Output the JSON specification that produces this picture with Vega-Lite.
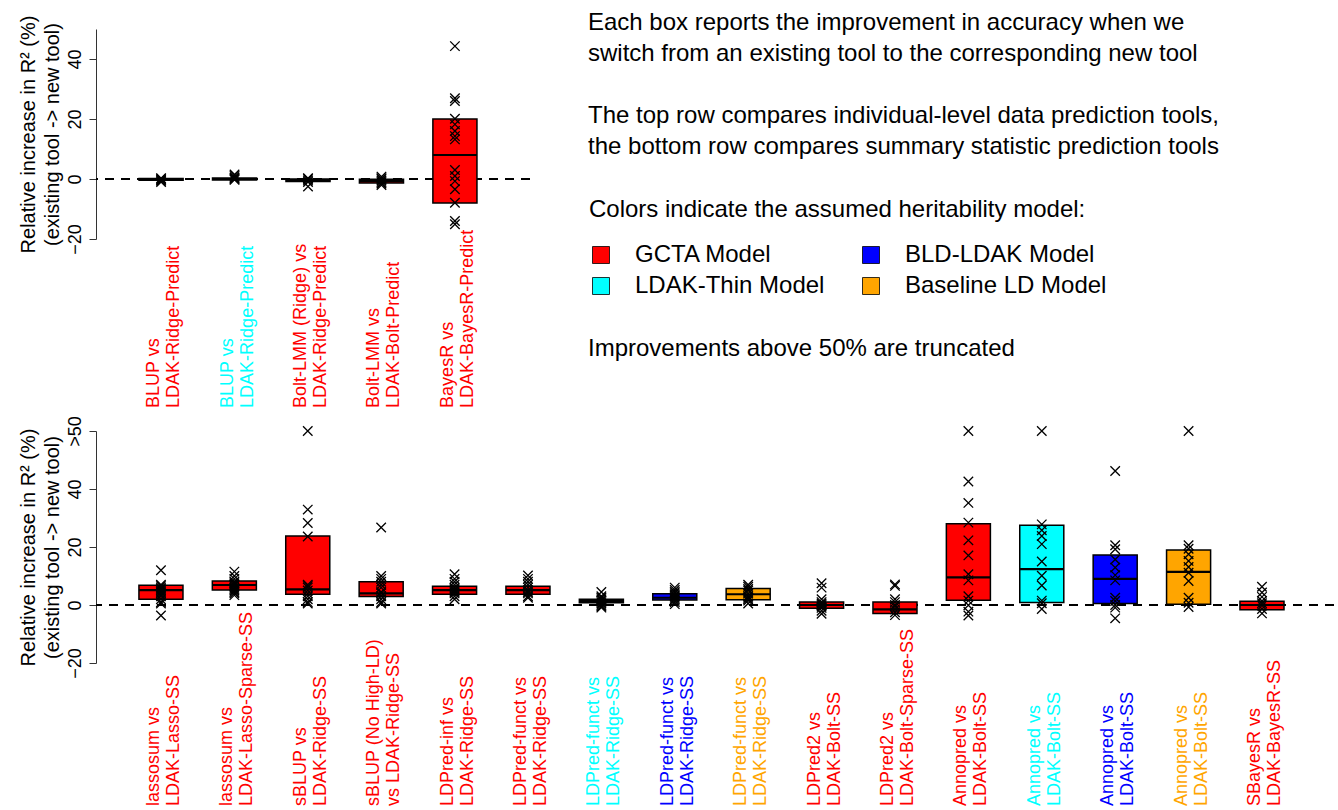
{
  "$schema": "https://vega.github.io/schema/vega-lite/v6.json",
  "background": "white",
  "padding": {"left": 17, "top": 10, "right": 0, "bottom": 0},
  "config": {
    "font": "Liberation Sans",
    "view": {"stroke": null},
    "axis": {"grid": false, "domainColor": "#333", "tickColor": "#333", "labelColor": "black", "titleColor": "black", "labelFont": "Liberation Sans", "titleFont": "Liberation Sans"}
  },
  "datasets": {
    "topBoxes": [
      {"comparison": "BLUP vs LDAK-Ridge-Predict (GCTA)", "label": "BLUP vs\nLDAK-Ridge-Predict", "model": "GCTA Model", "q1": -0.4, "med": -0.1, "q3": 0.2},
      {"comparison": "BLUP vs LDAK-Ridge-Predict (LDAK-Thin)", "label": "BLUP vs\nLDAK-Ridge-Predict", "model": "LDAK-Thin Model", "q1": -0.3, "med": 0, "q3": 0.3},
      {"comparison": "Bolt-LMM (Ridge) vs LDAK-Ridge-Predict", "label": "Bolt-LMM (Ridge) vs\nLDAK-Ridge-Predict", "model": "GCTA Model", "q1": -0.8, "med": -0.4, "q3": 0},
      {"comparison": "Bolt-LMM vs LDAK-Bolt-Predict", "label": "Bolt-LMM vs\nLDAK-Bolt-Predict", "model": "GCTA Model", "q1": -1.3, "med": -0.7, "q3": -0.1},
      {"comparison": "BayesR vs LDAK-BayesR-Predict", "label": "BayesR vs\nLDAK-BayesR-Predict", "model": "GCTA Model", "q1": -8, "med": 8, "q3": 20}
    ],
    "topPts": [
      {"comparison": "BLUP vs LDAK-Ridge-Predict (GCTA)", "value": 0.3},
      {"comparison": "BLUP vs LDAK-Ridge-Predict (GCTA)", "value": 0},
      {"comparison": "BLUP vs LDAK-Ridge-Predict (GCTA)", "value": -0.3},
      {"comparison": "BLUP vs LDAK-Ridge-Predict (GCTA)", "value": -0.6},
      {"comparison": "BLUP vs LDAK-Ridge-Predict (GCTA)", "value": -1.0},
      {"comparison": "BLUP vs LDAK-Ridge-Predict (LDAK-Thin)", "value": 1.5},
      {"comparison": "BLUP vs LDAK-Ridge-Predict (LDAK-Thin)", "value": 1.0},
      {"comparison": "BLUP vs LDAK-Ridge-Predict (LDAK-Thin)", "value": 0.5},
      {"comparison": "BLUP vs LDAK-Ridge-Predict (LDAK-Thin)", "value": 0.2},
      {"comparison": "BLUP vs LDAK-Ridge-Predict (LDAK-Thin)", "value": 0},
      {"comparison": "BLUP vs LDAK-Ridge-Predict (LDAK-Thin)", "value": -0.3},
      {"comparison": "Bolt-LMM (Ridge) vs LDAK-Ridge-Predict", "value": 0.3},
      {"comparison": "Bolt-LMM (Ridge) vs LDAK-Ridge-Predict", "value": 0},
      {"comparison": "Bolt-LMM (Ridge) vs LDAK-Ridge-Predict", "value": -0.5},
      {"comparison": "Bolt-LMM (Ridge) vs LDAK-Ridge-Predict", "value": -1.0},
      {"comparison": "Bolt-LMM (Ridge) vs LDAK-Ridge-Predict", "value": -2.5},
      {"comparison": "Bolt-LMM vs LDAK-Bolt-Predict", "value": 0.8},
      {"comparison": "Bolt-LMM vs LDAK-Bolt-Predict", "value": 0.3},
      {"comparison": "Bolt-LMM vs LDAK-Bolt-Predict", "value": 0},
      {"comparison": "Bolt-LMM vs LDAK-Bolt-Predict", "value": -0.5},
      {"comparison": "Bolt-LMM vs LDAK-Bolt-Predict", "value": -1.0},
      {"comparison": "Bolt-LMM vs LDAK-Bolt-Predict", "value": -1.5},
      {"comparison": "Bolt-LMM vs LDAK-Bolt-Predict", "value": -2.0},
      {"comparison": "BayesR vs LDAK-BayesR-Predict", "value": 44.3},
      {"comparison": "BayesR vs LDAK-BayesR-Predict", "value": 26.9},
      {"comparison": "BayesR vs LDAK-BayesR-Predict", "value": 26.0},
      {"comparison": "BayesR vs LDAK-BayesR-Predict", "value": 20.1},
      {"comparison": "BayesR vs LDAK-BayesR-Predict", "value": 18.2},
      {"comparison": "BayesR vs LDAK-BayesR-Predict", "value": 16.0},
      {"comparison": "BayesR vs LDAK-BayesR-Predict", "value": 14.3},
      {"comparison": "BayesR vs LDAK-BayesR-Predict", "value": 13.2},
      {"comparison": "BayesR vs LDAK-BayesR-Predict", "value": 3.0},
      {"comparison": "BayesR vs LDAK-BayesR-Predict", "value": 1.0},
      {"comparison": "BayesR vs LDAK-BayesR-Predict", "value": -0.7},
      {"comparison": "BayesR vs LDAK-BayesR-Predict", "value": -3.4},
      {"comparison": "BayesR vs LDAK-BayesR-Predict", "value": -7.9},
      {"comparison": "BayesR vs LDAK-BayesR-Predict", "value": -14.0},
      {"comparison": "BayesR vs LDAK-BayesR-Predict", "value": -15.1}
    ],
    "botBoxes": [
      {"comparison": "lassosum vs LDAK-Lasso-SS", "label": "lassosum vs\nLDAK-Lasso-SS", "model": "GCTA Model", "q1": 2.0, "med": 5.1, "q3": 6.8},
      {"comparison": "lassosum vs LDAK-Lasso-Sparse-SS", "label": "lassosum vs\nLDAK-Lasso-Sparse-SS", "model": "GCTA Model", "q1": 5.2, "med": 6.9, "q3": 8.3},
      {"comparison": "sBLUP vs LDAK-Ridge-SS", "label": "sBLUP vs\nLDAK-Ridge-SS", "model": "GCTA Model", "q1": 3.7, "med": 5.4, "q3": 23.8},
      {"comparison": "sBLUP (No High-LD) vs LDAK-Ridge-SS", "label": "sBLUP (No High-LD)\nvs LDAK-Ridge-SS", "model": "GCTA Model", "q1": 2.9, "med": 4.0, "q3": 8.0},
      {"comparison": "LDPred-inf vs LDAK-Ridge-SS", "label": "LDPred-inf vs\nLDAK-Ridge-SS", "model": "GCTA Model", "q1": 3.7, "med": 5.1, "q3": 6.5},
      {"comparison": "LDPred-funct vs LDAK-Ridge-SS (GCTA)", "label": "LDPred-funct vs\nLDAK-Ridge-SS", "model": "GCTA Model", "q1": 3.7, "med": 5.1, "q3": 6.5},
      {"comparison": "LDPred-funct vs LDAK-Ridge-SS (LDAK-Thin)", "label": "LDPred-funct vs\nLDAK-Ridge-SS", "model": "LDAK-Thin Model", "q1": 0.8, "med": 1.4, "q3": 2.0},
      {"comparison": "LDPred-funct vs LDAK-Ridge-SS (BLD-LDAK)", "label": "LDPred-funct vs\nLDAK-Ridge-SS", "model": "BLD-LDAK Model", "q1": 1.7, "med": 2.5, "q3": 3.9},
      {"comparison": "LDPred-funct vs LDAK-Ridge-SS (Baseline LD)", "label": "LDPred-funct vs\nLDAK-Ridge-SS", "model": "Baseline LD Model", "q1": 1.8, "med": 3.7, "q3": 5.7},
      {"comparison": "LDPred2 vs LDAK-Bolt-SS", "label": "LDPred2 vs\nLDAK-Bolt-SS", "model": "GCTA Model", "q1": -1.1, "med": 0.0, "q3": 1.0},
      {"comparison": "LDPred2 vs LDAK-Bolt-Sparse-SS", "label": "LDPred2 vs\nLDAK-Bolt-Sparse-SS", "model": "GCTA Model", "q1": -2.9, "med": -1.5, "q3": 1.0},
      {"comparison": "Annopred vs LDAK-Bolt-SS (GCTA)", "label": "Annopred vs\nLDAK-Bolt-SS", "model": "GCTA Model", "q1": 1.6, "med": 9.5, "q3": 28.0},
      {"comparison": "Annopred vs LDAK-Bolt-SS (LDAK-Thin)", "label": "Annopred vs\nLDAK-Bolt-SS", "model": "LDAK-Thin Model", "q1": 0.9, "med": 12.4, "q3": 27.5},
      {"comparison": "Annopred vs LDAK-Bolt-SS (BLD-LDAK)", "label": "Annopred vs\nLDAK-Bolt-SS", "model": "BLD-LDAK Model", "q1": 0.5, "med": 9.0, "q3": 17.2},
      {"comparison": "Annopred vs LDAK-Bolt-SS (Baseline LD)", "label": "Annopred vs\nLDAK-Bolt-SS", "model": "Baseline LD Model", "q1": 0.3, "med": 11.4, "q3": 19.0},
      {"comparison": "SBayesR vs LDAK-BayesR-SS", "label": "SBayesR vs\nLDAK-BayesR-SS", "model": "GCTA Model", "q1": -1.6, "med": 0.0, "q3": 1.3}
    ],
    "botPts": [
      {"comparison": "lassosum vs LDAK-Lasso-SS", "value": 12.0},
      {"comparison": "lassosum vs LDAK-Lasso-SS", "value": 7.0},
      {"comparison": "lassosum vs LDAK-Lasso-SS", "value": 6.5},
      {"comparison": "lassosum vs LDAK-Lasso-SS", "value": 6.0},
      {"comparison": "lassosum vs LDAK-Lasso-SS", "value": 5.5},
      {"comparison": "lassosum vs LDAK-Lasso-SS", "value": 5.0},
      {"comparison": "lassosum vs LDAK-Lasso-SS", "value": 4.5},
      {"comparison": "lassosum vs LDAK-Lasso-SS", "value": 4.0},
      {"comparison": "lassosum vs LDAK-Lasso-SS", "value": 3.5},
      {"comparison": "lassosum vs LDAK-Lasso-SS", "value": 3.0},
      {"comparison": "lassosum vs LDAK-Lasso-SS", "value": 2.0},
      {"comparison": "lassosum vs LDAK-Lasso-SS", "value": 1.0},
      {"comparison": "lassosum vs LDAK-Lasso-SS", "value": 0.5},
      {"comparison": "lassosum vs LDAK-Lasso-SS", "value": -3.6},
      {"comparison": "lassosum vs LDAK-Lasso-Sparse-SS", "value": 11.5},
      {"comparison": "lassosum vs LDAK-Lasso-Sparse-SS", "value": 10.0},
      {"comparison": "lassosum vs LDAK-Lasso-Sparse-SS", "value": 9.0},
      {"comparison": "lassosum vs LDAK-Lasso-Sparse-SS", "value": 8.0},
      {"comparison": "lassosum vs LDAK-Lasso-Sparse-SS", "value": 7.5},
      {"comparison": "lassosum vs LDAK-Lasso-Sparse-SS", "value": 7.0},
      {"comparison": "lassosum vs LDAK-Lasso-Sparse-SS", "value": 6.5},
      {"comparison": "lassosum vs LDAK-Lasso-Sparse-SS", "value": 6.0},
      {"comparison": "lassosum vs LDAK-Lasso-Sparse-SS", "value": 5.5},
      {"comparison": "lassosum vs LDAK-Lasso-Sparse-SS", "value": 5.0},
      {"comparison": "lassosum vs LDAK-Lasso-Sparse-SS", "value": 4.5},
      {"comparison": "lassosum vs LDAK-Lasso-Sparse-SS", "value": 4.0},
      {"comparison": "lassosum vs LDAK-Lasso-Sparse-SS", "value": 3.4},
      {"comparison": "sBLUP vs LDAK-Ridge-SS", "value": 60},
      {"comparison": "sBLUP vs LDAK-Ridge-SS", "value": 32.9},
      {"comparison": "sBLUP vs LDAK-Ridge-SS", "value": 28.3},
      {"comparison": "sBLUP vs LDAK-Ridge-SS", "value": 23.6},
      {"comparison": "sBLUP vs LDAK-Ridge-SS", "value": 7.0},
      {"comparison": "sBLUP vs LDAK-Ridge-SS", "value": 6.5},
      {"comparison": "sBLUP vs LDAK-Ridge-SS", "value": 6.0},
      {"comparison": "sBLUP vs LDAK-Ridge-SS", "value": 5.0},
      {"comparison": "sBLUP vs LDAK-Ridge-SS", "value": 4.0},
      {"comparison": "sBLUP vs LDAK-Ridge-SS", "value": 3.0},
      {"comparison": "sBLUP vs LDAK-Ridge-SS", "value": 2.0},
      {"comparison": "sBLUP vs LDAK-Ridge-SS", "value": 1.0},
      {"comparison": "sBLUP vs LDAK-Ridge-SS", "value": 0.5},
      {"comparison": "sBLUP (No High-LD) vs LDAK-Ridge-SS", "value": 26.7},
      {"comparison": "sBLUP (No High-LD) vs LDAK-Ridge-SS", "value": 10.0},
      {"comparison": "sBLUP (No High-LD) vs LDAK-Ridge-SS", "value": 9.0},
      {"comparison": "sBLUP (No High-LD) vs LDAK-Ridge-SS", "value": 8.0},
      {"comparison": "sBLUP (No High-LD) vs LDAK-Ridge-SS", "value": 7.0},
      {"comparison": "sBLUP (No High-LD) vs LDAK-Ridge-SS", "value": 6.0},
      {"comparison": "sBLUP (No High-LD) vs LDAK-Ridge-SS", "value": 4.5},
      {"comparison": "sBLUP (No High-LD) vs LDAK-Ridge-SS", "value": 4.0},
      {"comparison": "sBLUP (No High-LD) vs LDAK-Ridge-SS", "value": 3.0},
      {"comparison": "sBLUP (No High-LD) vs LDAK-Ridge-SS", "value": 2.0},
      {"comparison": "sBLUP (No High-LD) vs LDAK-Ridge-SS", "value": 1.0},
      {"comparison": "sBLUP (No High-LD) vs LDAK-Ridge-SS", "value": 0.5},
      {"comparison": "LDPred-inf vs LDAK-Ridge-SS", "value": 10.6},
      {"comparison": "LDPred-inf vs LDAK-Ridge-SS", "value": 9.0},
      {"comparison": "LDPred-inf vs LDAK-Ridge-SS", "value": 8.0},
      {"comparison": "LDPred-inf vs LDAK-Ridge-SS", "value": 7.0},
      {"comparison": "LDPred-inf vs LDAK-Ridge-SS", "value": 6.0},
      {"comparison": "LDPred-inf vs LDAK-Ridge-SS", "value": 5.5},
      {"comparison": "LDPred-inf vs LDAK-Ridge-SS", "value": 5.0},
      {"comparison": "LDPred-inf vs LDAK-Ridge-SS", "value": 4.5},
      {"comparison": "LDPred-inf vs LDAK-Ridge-SS", "value": 4.0},
      {"comparison": "LDPred-inf vs LDAK-Ridge-SS", "value": 3.0},
      {"comparison": "LDPred-inf vs LDAK-Ridge-SS", "value": 2.0},
      {"comparison": "LDPred-funct vs LDAK-Ridge-SS (GCTA)", "value": 10.2},
      {"comparison": "LDPred-funct vs LDAK-Ridge-SS (GCTA)", "value": 9.0},
      {"comparison": "LDPred-funct vs LDAK-Ridge-SS (GCTA)", "value": 8.0},
      {"comparison": "LDPred-funct vs LDAK-Ridge-SS (GCTA)", "value": 7.0},
      {"comparison": "LDPred-funct vs LDAK-Ridge-SS (GCTA)", "value": 6.0},
      {"comparison": "LDPred-funct vs LDAK-Ridge-SS (GCTA)", "value": 5.0},
      {"comparison": "LDPred-funct vs LDAK-Ridge-SS (GCTA)", "value": 4.5},
      {"comparison": "LDPred-funct vs LDAK-Ridge-SS (GCTA)", "value": 4.0},
      {"comparison": "LDPred-funct vs LDAK-Ridge-SS (GCTA)", "value": 3.0},
      {"comparison": "LDPred-funct vs LDAK-Ridge-SS (GCTA)", "value": 2.5},
      {"comparison": "LDPred-funct vs LDAK-Ridge-SS (LDAK-Thin)", "value": 4.5},
      {"comparison": "LDPred-funct vs LDAK-Ridge-SS (LDAK-Thin)", "value": 3.0},
      {"comparison": "LDPred-funct vs LDAK-Ridge-SS (LDAK-Thin)", "value": 2.5},
      {"comparison": "LDPred-funct vs LDAK-Ridge-SS (LDAK-Thin)", "value": 2.0},
      {"comparison": "LDPred-funct vs LDAK-Ridge-SS (LDAK-Thin)", "value": 1.5},
      {"comparison": "LDPred-funct vs LDAK-Ridge-SS (LDAK-Thin)", "value": 1.0},
      {"comparison": "LDPred-funct vs LDAK-Ridge-SS (LDAK-Thin)", "value": 0.5},
      {"comparison": "LDPred-funct vs LDAK-Ridge-SS (LDAK-Thin)", "value": 0},
      {"comparison": "LDPred-funct vs LDAK-Ridge-SS (LDAK-Thin)", "value": -0.5},
      {"comparison": "LDPred-funct vs LDAK-Ridge-SS (LDAK-Thin)", "value": -0.9},
      {"comparison": "LDPred-funct vs LDAK-Ridge-SS (BLD-LDAK)", "value": 6.0},
      {"comparison": "LDPred-funct vs LDAK-Ridge-SS (BLD-LDAK)", "value": 5.2},
      {"comparison": "LDPred-funct vs LDAK-Ridge-SS (BLD-LDAK)", "value": 4.5},
      {"comparison": "LDPred-funct vs LDAK-Ridge-SS (BLD-LDAK)", "value": 4.0},
      {"comparison": "LDPred-funct vs LDAK-Ridge-SS (BLD-LDAK)", "value": 3.5},
      {"comparison": "LDPred-funct vs LDAK-Ridge-SS (BLD-LDAK)", "value": 3.0},
      {"comparison": "LDPred-funct vs LDAK-Ridge-SS (BLD-LDAK)", "value": 2.5},
      {"comparison": "LDPred-funct vs LDAK-Ridge-SS (BLD-LDAK)", "value": 2.0},
      {"comparison": "LDPred-funct vs LDAK-Ridge-SS (BLD-LDAK)", "value": 1.5},
      {"comparison": "LDPred-funct vs LDAK-Ridge-SS (BLD-LDAK)", "value": 1.0},
      {"comparison": "LDPred-funct vs LDAK-Ridge-SS (BLD-LDAK)", "value": 0.3},
      {"comparison": "LDPred-funct vs LDAK-Ridge-SS (Baseline LD)", "value": 7.0},
      {"comparison": "LDPred-funct vs LDAK-Ridge-SS (Baseline LD)", "value": 6.3},
      {"comparison": "LDPred-funct vs LDAK-Ridge-SS (Baseline LD)", "value": 5.5},
      {"comparison": "LDPred-funct vs LDAK-Ridge-SS (Baseline LD)", "value": 5.0},
      {"comparison": "LDPred-funct vs LDAK-Ridge-SS (Baseline LD)", "value": 4.0},
      {"comparison": "LDPred-funct vs LDAK-Ridge-SS (Baseline LD)", "value": 3.0},
      {"comparison": "LDPred-funct vs LDAK-Ridge-SS (Baseline LD)", "value": 2.5},
      {"comparison": "LDPred-funct vs LDAK-Ridge-SS (Baseline LD)", "value": 2.0},
      {"comparison": "LDPred-funct vs LDAK-Ridge-SS (Baseline LD)", "value": 1.5},
      {"comparison": "LDPred-funct vs LDAK-Ridge-SS (Baseline LD)", "value": 0.5},
      {"comparison": "LDPred2 vs LDAK-Bolt-SS", "value": 7.5},
      {"comparison": "LDPred2 vs LDAK-Bolt-SS", "value": 6.0},
      {"comparison": "LDPred2 vs LDAK-Bolt-SS", "value": 2.0},
      {"comparison": "LDPred2 vs LDAK-Bolt-SS", "value": 1.0},
      {"comparison": "LDPred2 vs LDAK-Bolt-SS", "value": 0.5},
      {"comparison": "LDPred2 vs LDAK-Bolt-SS", "value": 0},
      {"comparison": "LDPred2 vs LDAK-Bolt-SS", "value": -0.5},
      {"comparison": "LDPred2 vs LDAK-Bolt-SS", "value": -1.0},
      {"comparison": "LDPred2 vs LDAK-Bolt-SS", "value": -2.0},
      {"comparison": "LDPred2 vs LDAK-Bolt-SS", "value": -3.0},
      {"comparison": "LDPred2 vs LDAK-Bolt-Sparse-SS", "value": 7.1},
      {"comparison": "LDPred2 vs LDAK-Bolt-Sparse-SS", "value": 6.6},
      {"comparison": "LDPred2 vs LDAK-Bolt-Sparse-SS", "value": 2.0},
      {"comparison": "LDPred2 vs LDAK-Bolt-Sparse-SS", "value": 1.0},
      {"comparison": "LDPred2 vs LDAK-Bolt-Sparse-SS", "value": 0},
      {"comparison": "LDPred2 vs LDAK-Bolt-Sparse-SS", "value": -0.5},
      {"comparison": "LDPred2 vs LDAK-Bolt-Sparse-SS", "value": -1.5},
      {"comparison": "LDPred2 vs LDAK-Bolt-Sparse-SS", "value": -2.5},
      {"comparison": "LDPred2 vs LDAK-Bolt-Sparse-SS", "value": -3.5},
      {"comparison": "Annopred vs LDAK-Bolt-SS (GCTA)", "value": 60},
      {"comparison": "Annopred vs LDAK-Bolt-SS (GCTA)", "value": 42.6},
      {"comparison": "Annopred vs LDAK-Bolt-SS (GCTA)", "value": 35.2},
      {"comparison": "Annopred vs LDAK-Bolt-SS (GCTA)", "value": 28.4},
      {"comparison": "Annopred vs LDAK-Bolt-SS (GCTA)", "value": 22.3},
      {"comparison": "Annopred vs LDAK-Bolt-SS (GCTA)", "value": 17.1},
      {"comparison": "Annopred vs LDAK-Bolt-SS (GCTA)", "value": 10.6},
      {"comparison": "Annopred vs LDAK-Bolt-SS (GCTA)", "value": 8.5},
      {"comparison": "Annopred vs LDAK-Bolt-SS (GCTA)", "value": 3.0},
      {"comparison": "Annopred vs LDAK-Bolt-SS (GCTA)", "value": 1.5},
      {"comparison": "Annopred vs LDAK-Bolt-SS (GCTA)", "value": -0.1},
      {"comparison": "Annopred vs LDAK-Bolt-SS (GCTA)", "value": -2.3},
      {"comparison": "Annopred vs LDAK-Bolt-SS (GCTA)", "value": -3.6},
      {"comparison": "Annopred vs LDAK-Bolt-SS (LDAK-Thin)", "value": 60},
      {"comparison": "Annopred vs LDAK-Bolt-SS (LDAK-Thin)", "value": 27.8},
      {"comparison": "Annopred vs LDAK-Bolt-SS (LDAK-Thin)", "value": 25.8},
      {"comparison": "Annopred vs LDAK-Bolt-SS (LDAK-Thin)", "value": 23.8},
      {"comparison": "Annopred vs LDAK-Bolt-SS (LDAK-Thin)", "value": 21.0},
      {"comparison": "Annopred vs LDAK-Bolt-SS (LDAK-Thin)", "value": 15.0},
      {"comparison": "Annopred vs LDAK-Bolt-SS (LDAK-Thin)", "value": 10.1},
      {"comparison": "Annopred vs LDAK-Bolt-SS (LDAK-Thin)", "value": 6.7},
      {"comparison": "Annopred vs LDAK-Bolt-SS (LDAK-Thin)", "value": 1.5},
      {"comparison": "Annopred vs LDAK-Bolt-SS (LDAK-Thin)", "value": 0.6},
      {"comparison": "Annopred vs LDAK-Bolt-SS (LDAK-Thin)", "value": -1.4},
      {"comparison": "Annopred vs LDAK-Bolt-SS (BLD-LDAK)", "value": 46.2},
      {"comparison": "Annopred vs LDAK-Bolt-SS (BLD-LDAK)", "value": 20.6},
      {"comparison": "Annopred vs LDAK-Bolt-SS (BLD-LDAK)", "value": 19.2},
      {"comparison": "Annopred vs LDAK-Bolt-SS (BLD-LDAK)", "value": 15.7},
      {"comparison": "Annopred vs LDAK-Bolt-SS (BLD-LDAK)", "value": 12.9},
      {"comparison": "Annopred vs LDAK-Bolt-SS (BLD-LDAK)", "value": 10.3},
      {"comparison": "Annopred vs LDAK-Bolt-SS (BLD-LDAK)", "value": 8.5},
      {"comparison": "Annopred vs LDAK-Bolt-SS (BLD-LDAK)", "value": 2.5},
      {"comparison": "Annopred vs LDAK-Bolt-SS (BLD-LDAK)", "value": 1.4},
      {"comparison": "Annopred vs LDAK-Bolt-SS (BLD-LDAK)", "value": 0},
      {"comparison": "Annopred vs LDAK-Bolt-SS (BLD-LDAK)", "value": -0.9},
      {"comparison": "Annopred vs LDAK-Bolt-SS (BLD-LDAK)", "value": -4.6},
      {"comparison": "Annopred vs LDAK-Bolt-SS (Baseline LD)", "value": 60},
      {"comparison": "Annopred vs LDAK-Bolt-SS (Baseline LD)", "value": 20.6},
      {"comparison": "Annopred vs LDAK-Bolt-SS (Baseline LD)", "value": 19.4},
      {"comparison": "Annopred vs LDAK-Bolt-SS (Baseline LD)", "value": 17.5},
      {"comparison": "Annopred vs LDAK-Bolt-SS (Baseline LD)", "value": 15.2},
      {"comparison": "Annopred vs LDAK-Bolt-SS (Baseline LD)", "value": 13.1},
      {"comparison": "Annopred vs LDAK-Bolt-SS (Baseline LD)", "value": 11.1},
      {"comparison": "Annopred vs LDAK-Bolt-SS (Baseline LD)", "value": 8.3},
      {"comparison": "Annopred vs LDAK-Bolt-SS (Baseline LD)", "value": 2.5},
      {"comparison": "Annopred vs LDAK-Bolt-SS (Baseline LD)", "value": 0.8},
      {"comparison": "Annopred vs LDAK-Bolt-SS (Baseline LD)", "value": -0.7},
      {"comparison": "SBayesR vs LDAK-BayesR-SS", "value": 6.3},
      {"comparison": "SBayesR vs LDAK-BayesR-SS", "value": 4.3},
      {"comparison": "SBayesR vs LDAK-BayesR-SS", "value": 2.8},
      {"comparison": "SBayesR vs LDAK-BayesR-SS", "value": 1.4},
      {"comparison": "SBayesR vs LDAK-BayesR-SS", "value": 0.6},
      {"comparison": "SBayesR vs LDAK-BayesR-SS", "value": -0.2},
      {"comparison": "SBayesR vs LDAK-BayesR-SS", "value": -1.4},
      {"comparison": "SBayesR vs LDAK-BayesR-SS", "value": -2.9}
    ],
    "notes": [
      {"line": 1, "text": "Each box reports the improvement in accuracy when we"},
      {"line": 2, "text": "switch from an existing tool to the corresponding new tool"},
      {"line": 4, "text": "The top row compares individual-level data prediction tools,"},
      {"line": 5, "text": "the bottom row compares summary statistic prediction tools"},
      {"line": 11.5, "text": "Improvements above 50% are truncated"}
    ],
    "zeroLine": [{"ref": 0}]
  },
  "bounds": "flush",
  "spacing": 402,
  "resolve": {"scale": {"x": "independent", "y": "independent", "color": "shared"}},
  "vconcat": [
    {
      "bounds": "flush",
      "spacing": 58,
      "resolve": {"scale": {"x": "independent", "y": "independent", "color": "shared"}},
      "hconcat": [
        {
          "width": 434,
          "height": 210,
          "layer": [
            {
              "data": {"name": "zeroLine"},
              "mark": {"type": "rule", "strokeDash": [9, 7], "strokeWidth": 2, "color": "black"},
              "encoding": {"y": {"field": "ref", "type": "quantitative"}}
            },
            {
              "data": {"name": "topBoxes"},
              "mark": {"type": "bar", "stroke": "black", "strokeWidth": 1.5},
              "encoding": {
                "x": {"field": "comparison", "type": "nominal", "sort": null, "scale": {"paddingInner": 0.4, "paddingOuter": 0.654, "align": 0.448}, "axis": null},
                "y": {"field": "q1", "type": "quantitative", "scale": {"domain": [-20, 50], "nice": false, "zero": false},
                  "axis": {"title": ["Relative increase in R² (%)", "(existing tool -> new tool)"], "values": [-20, -10, 0, 10, 20, 30, 40, 50],
                    "labelExpr": "(datum.value % 20 == 0 && datum.value <= 40) ? datum.label : ''",
                    "labelAngle": 270, "labelAlign": "center", "labelBaseline": "bottom", "labelFontSize": 18, "labelPadding": 5, "tickSize": 7,
                    "labelOverlap": false, "labelFlush": false,
                    "titleFontSize": 20, "titleFontWeight": "normal", "titleLineHeight": 24, "titlePadding": 4}},
                "y2": {"field": "q3"},
                "color": {"field": "model", "type": "nominal",
                  "scale": {"domain": ["GCTA Model", "LDAK-Thin Model", "BLD-LDAK Model", "Baseline LD Model"], "range": ["#FF0000", "#00FFFF", "#0000FF", "#FFA500"]},
                  "legend": {"orient": "none", "legendX": 493, "legendY": 169, "title": "Colors indicate the assumed heritability model:", "columns": 2,
                    "symbolType": "square", "symbolSize": 289, "symbolStrokeColor": "black", "symbolStrokeWidth": 0.8,
                    "labelFontSize": 24, "labelFont": "Liberation Sans", "labelColor": "black", "labelOffset": 22, "labelLimit": 0,
                    "titleFontSize": 24, "titleFont": "Liberation Sans", "titleColor": "black", "titleFontWeight": "normal", "titlePadding": 21, "titleLimit": 0,
                    "columnPadding": 34, "rowPadding": 7, "padding": 0}}
              }
            },
            {
              "data": {"name": "topBoxes"},
              "mark": {"type": "bar", "stroke": "black", "strokeWidth": 2.2, "fillOpacity": 0},
              "encoding": {
                "x": {"field": "comparison", "type": "nominal", "sort": null},
                "y": {"field": "med", "type": "quantitative"},
                "y2": {"field": "med"}
              }
            },
            {
              "data": {"name": "topPts"},
              "mark": {"type": "point", "shape": "M-1,-1L1,1M-1,1L1,-1", "filled": false, "stroke": "black", "strokeWidth": 1.3, "size": 90, "opacity": 1},
              "encoding": {
                "x": {"field": "comparison", "type": "nominal", "sort": null},
                "y": {"field": "value", "type": "quantitative"}
              }
            },
            {
              "data": {"name": "topBoxes"},
              "mark": {"type": "text", "angle": 270, "align": "left", "baseline": "middle", "fontSize": 18, "lineBreak": "\n", "lineHeight": 20, "dy": -7},
              "encoding": {
                "x": {"field": "comparison", "type": "nominal", "sort": null},
                "y": {"datum": -76.3},
                "text": {"field": "label"},
                "color": {"field": "model", "type": "nominal", "legend": null}
              }
            }
          ]
        },
        {
          "width": 700,
          "height": 210,
          "data": {"name": "notes"},
          "mark": {"type": "text", "align": "left", "baseline": "middle", "fontSize": 24, "color": "black"},
          "encoding": {
            "x": {"datum": 0, "type": "quantitative", "scale": {"domain": [0, 1]}, "axis": null},
            "y": {"field": "line", "type": "quantitative", "scale": {"domain": [1.19355, 7.96774], "reverse": true, "nice": false, "zero": false}, "axis": null},
            "text": {"field": "text"}
          }
        }
      ]
    },
    {
      "width": 1238,
      "height": 232,
      "layer": [
        {
          "data": {"name": "zeroLine"},
          "mark": {"type": "rule", "strokeDash": [9, 7], "strokeWidth": 2, "color": "black"},
          "encoding": {"y": {"field": "ref", "type": "quantitative"}}
        },
        {
          "data": {"name": "botBoxes"},
          "mark": {"type": "bar", "stroke": "black", "strokeWidth": 1.5},
          "encoding": {
            "x": {"field": "comparison", "type": "nominal", "sort": null, "scale": {"paddingInner": 0.4, "paddingOuter": 0.633, "align": 0.462}, "axis": null},
            "y": {"field": "q1", "type": "quantitative", "scale": {"domain": [-20, 60], "nice": false, "zero": false},
              "axis": {"title": ["Relative increase in R² (%)", "(existing tool -> new tool)"], "values": [-20, -10, 0, 10, 20, 30, 40, 50, 60],
                "labelExpr": "datum.value == 60 ? '>50' : ((datum.value % 20 == 0 && datum.value <= 40) ? datum.label : '')",
                "labelAngle": 270, "labelAlign": "center", "labelBaseline": "bottom", "labelFontSize": 18, "labelPadding": 5, "tickSize": 7,
                "labelOverlap": false, "labelFlush": false,
                "titleFontSize": 20, "titleFontWeight": "normal", "titleLineHeight": 24, "titlePadding": 4}},
            "y2": {"field": "q3"},
            "color": {"field": "model", "type": "nominal",
              "scale": {"domain": ["GCTA Model", "LDAK-Thin Model", "BLD-LDAK Model", "Baseline LD Model"], "range": ["#FF0000", "#00FFFF", "#0000FF", "#FFA500"]},
              "legend": {"orient": "none", "legendX": 493, "legendY": 169, "title": "Colors indicate the assumed heritability model:", "columns": 2,
                "symbolType": "square", "symbolSize": 289, "symbolStrokeColor": "black", "symbolStrokeWidth": 0.8,
                "labelFontSize": 24, "labelFont": "Liberation Sans", "labelColor": "black", "labelOffset": 22, "labelLimit": 0,
                "titleFontSize": 24, "titleFont": "Liberation Sans", "titleColor": "black", "titleFontWeight": "normal", "titlePadding": 21, "titleLimit": 0,
                "columnPadding": 34, "rowPadding": 7, "padding": 0}}
          }
        },
        {
          "data": {"name": "botBoxes"},
          "mark": {"type": "bar", "stroke": "black", "strokeWidth": 2.2, "fillOpacity": 0},
          "encoding": {
            "x": {"field": "comparison", "type": "nominal", "sort": null},
            "y": {"field": "med", "type": "quantitative"},
            "y2": {"field": "med"}
          }
        },
        {
          "data": {"name": "botPts"},
          "mark": {"type": "point", "shape": "M-1,-1L1,1M-1,1L1,-1", "filled": false, "stroke": "black", "strokeWidth": 1.3, "size": 90, "opacity": 1},
          "encoding": {
            "x": {"field": "comparison", "type": "nominal", "sort": null},
            "y": {"field": "value", "type": "quantitative"}
          }
        },
        {
          "data": {"name": "botBoxes"},
          "mark": {"type": "text", "angle": 270, "align": "left", "baseline": "middle", "fontSize": 18, "lineBreak": "\n", "lineHeight": 20, "dy": -7},
          "encoding": {
            "x": {"field": "comparison", "type": "nominal", "sort": null},
            "y": {"datum": -69.3},
            "text": {"field": "label"},
            "color": {"field": "model", "type": "nominal", "legend": null}
          }
        }
      ]
    }
  ]
}
